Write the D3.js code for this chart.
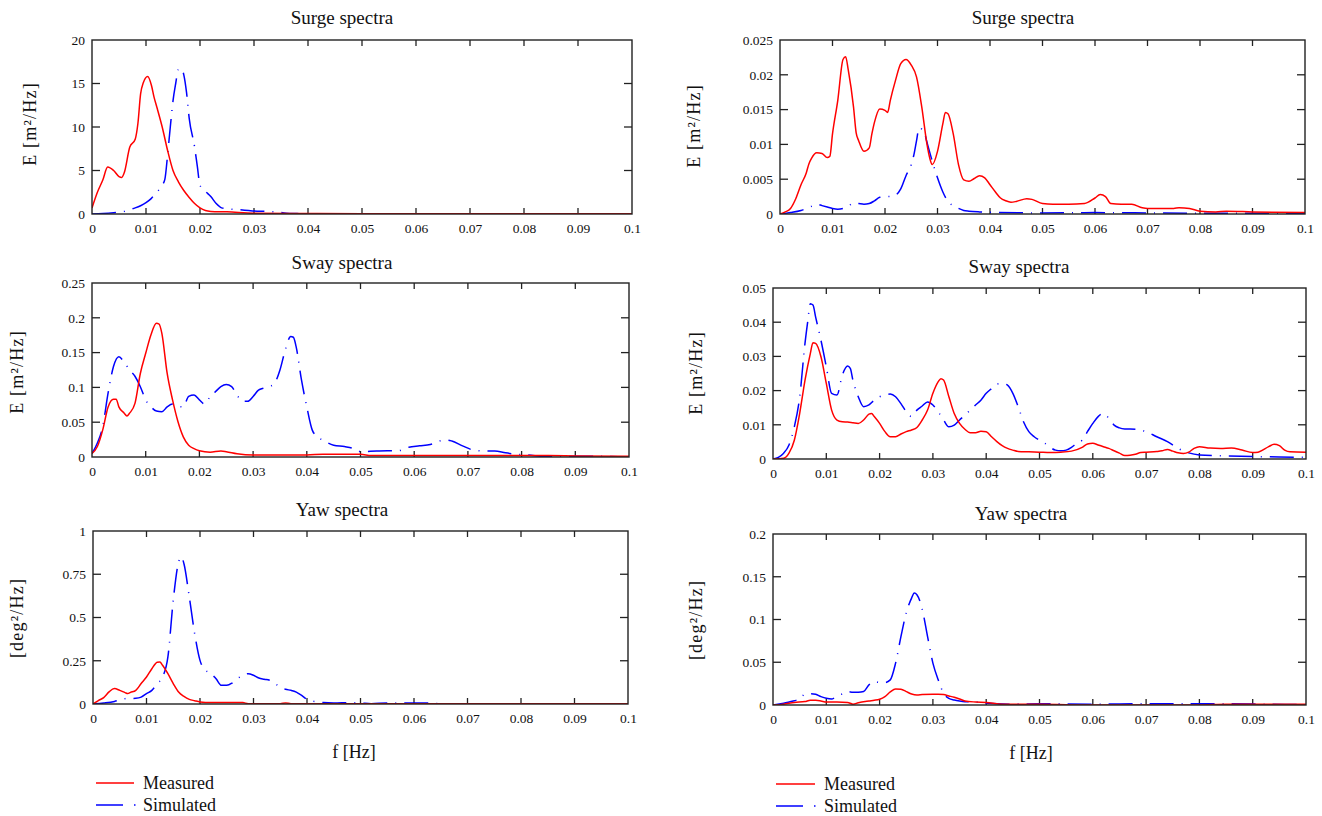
<!DOCTYPE html>
<html>
<head>
<meta charset="utf-8">
<script src="https://cdn.jsdelivr.net/npm/d3@7"></script>
<style>
  body { margin: 0; background: #fff; }
  svg { display: block; }
  svg text { font-family: "Liberation Serif", "Times New Roman", serif !important; fill: #111; }
</style>
</head>
<body>
<svg id="chart" width="1322" height="816"></svg>
<script>
// frequency tick labels shared by all panels
var freqTicks = [0, 0.01, 0.02, 0.03, 0.04, 0.05, 0.06, 0.07, 0.08, 0.09, 0.1]

// y tick labels per panel
var surgeTicksA = [0, 5, 10, 15, 20]
var surgeTicksB = [0, 0.005, 0.01, 0.015, 0.02, 0.025]
var swayTicksA = [0, 0.05, 0.1, 0.15, 0.2, 0.25]
var swayTicksB = [0, 0.01, 0.02, 0.03, 0.04, 0.05]
var yawTicksA = [0, 0.25, 0.5, 0.75, 1]
var yawTicksB = [0, 0.05, 0.1, 0.15, 0.2]

// series: [f (Hz), E]
var surgeMeasA = [[0,0.7],[0.001,2.5],[0.002,3.9],[0.0029,5.4],[0.004,5.0],[0.005,4.3],[0.0055,4.2],[0.006,4.8],[0.007,7.7],[0.008,8.6],[0.0085,10.4],[0.009,13.8],[0.0095,15.1],[0.0103,15.8],[0.011,14.8],[0.0115,13.4],[0.012,12.3],[0.013,10],[0.014,7.3],[0.015,5.0],[0.016,3.7],[0.017,2.7],[0.018,1.9],[0.019,1.2],[0.02,0.7],[0.021,0.4],[0.022,0.3],[0.025,0.25],[0.03,0.1],[0.04,0.05],[0.05,0.02],[0.1,0.02]]
var surgeSimA = [[0,0],[0.002,0.05],[0.004,0.15],[0.006,0.3],[0.007,0.5],[0.008,0.7],[0.009,0.95],[0.01,1.3],[0.011,1.8],[0.012,2.5],[0.013,3.3],[0.0135,4.0],[0.014,6.8],[0.0145,10],[0.015,13],[0.0155,15],[0.016,16.6],[0.0165,16.7],[0.017,16.0],[0.0175,14],[0.018,11],[0.019,7.7],[0.0195,5.5],[0.02,3.3],[0.021,2.6],[0.022,2.0],[0.023,1.2],[0.024,0.7],[0.025,0.6],[0.027,0.5],[0.029,0.4],[0.03,0.35],[0.032,0.3],[0.034,0.25],[0.036,0.1],[0.038,0.05],[0.04,0.02],[0.1,0.02]]

var surgeMeasB = [[0,0],[0.001,0.0003],[0.002,0.0008],[0.003,0.0022],[0.004,0.0042],[0.005,0.0059],[0.0055,0.0072],[0.006,0.008],[0.007,0.0088],[0.008,0.0087],[0.009,0.0081],[0.0095,0.0083],[0.01,0.0115],[0.011,0.0163],[0.012,0.0222],[0.0125,0.0226],[0.013,0.0207],[0.014,0.0154],[0.0145,0.0117],[0.015,0.0105],[0.016,0.009],[0.017,0.0095],[0.0175,0.0115],[0.018,0.0132],[0.019,0.0151],[0.02,0.0149],[0.0205,0.0146],[0.021,0.0163],[0.022,0.0192],[0.023,0.0216],[0.024,0.0222],[0.025,0.0214],[0.026,0.0197],[0.027,0.0154],[0.028,0.01],[0.0285,0.0081],[0.029,0.0071],[0.03,0.009],[0.031,0.0129],[0.0315,0.0146],[0.032,0.0144],[0.033,0.0115],[0.034,0.0071],[0.035,0.0049],[0.036,0.0047],[0.037,0.0051],[0.038,0.0055],[0.039,0.0052],[0.04,0.0042],[0.041,0.0032],[0.042,0.0023],[0.043,0.0019],[0.044,0.0017],[0.045,0.0018],[0.047,0.0022],[0.048,0.0021],[0.05,0.0015],[0.052,0.0014],[0.055,0.0014],[0.058,0.0015],[0.06,0.0023],[0.061,0.0028],[0.062,0.0025],[0.063,0.0015],[0.065,0.0014],[0.067,0.0014],[0.069,0.0009],[0.07,0.0008],[0.075,0.0008],[0.076,0.0009],[0.078,0.0008],[0.08,0.0004],[0.083,0.0003],[0.085,0.0004],[0.09,0.0003],[0.1,0.0002]]
var surgeSimB = [[0,0],[0.002,0.0002],[0.004,0.0005],[0.006,0.0011],[0.007,0.0014],[0.008,0.0012],[0.009,0.001],[0.01,0.0008],[0.011,0.0007],[0.012,0.0008],[0.013,0.0011],[0.014,0.0016],[0.015,0.0015],[0.016,0.0014],[0.017,0.0015],[0.018,0.0019],[0.019,0.0024],[0.02,0.0025],[0.021,0.0025],[0.022,0.0027],[0.023,0.0036],[0.024,0.0055],[0.025,0.0071],[0.0255,0.0085],[0.026,0.0105],[0.0265,0.0124],[0.027,0.0122],[0.0275,0.0117],[0.028,0.0103],[0.029,0.0076],[0.03,0.0052],[0.031,0.0032],[0.032,0.0018],[0.033,0.0012],[0.034,0.0008],[0.035,0.0005],[0.036,0.0004],[0.038,0.0003],[0.04,0.00025],[0.05,0.00015],[0.06,0.0002],[0.07,0.00015],[0.08,0.0001],[0.1,0.0001]]

var swayMeasA = [[0,0.005],[0.001,0.015],[0.002,0.039],[0.003,0.072],[0.004,0.083],[0.0045,0.083],[0.005,0.072],[0.006,0.063],[0.0065,0.059],[0.007,0.063],[0.008,0.077],[0.009,0.12],[0.01,0.149],[0.011,0.176],[0.012,0.192],[0.0125,0.191],[0.013,0.178],[0.014,0.12],[0.015,0.082],[0.016,0.051],[0.017,0.029],[0.018,0.017],[0.019,0.012],[0.02,0.009],[0.022,0.007],[0.024,0.0086],[0.025,0.0077],[0.027,0.0048],[0.03,0.003],[0.035,0.003],[0.04,0.003],[0.043,0.004],[0.05,0.004],[0.052,0.002],[0.06,0.002],[0.08,0.002],[0.085,0.002],[0.09,0.0015],[0.1,0.001]]
var swaySimA = [[0,0.005],[0.001,0.02],[0.002,0.044],[0.003,0.092],[0.004,0.13],[0.005,0.144],[0.006,0.136],[0.007,0.125],[0.008,0.116],[0.009,0.101],[0.01,0.082],[0.011,0.072],[0.012,0.066],[0.013,0.065],[0.014,0.072],[0.015,0.076],[0.016,0.073],[0.017,0.072],[0.018,0.087],[0.019,0.089],[0.02,0.082],[0.021,0.076],[0.022,0.087],[0.023,0.094],[0.024,0.101],[0.025,0.104],[0.026,0.101],[0.027,0.089],[0.028,0.08],[0.029,0.08],[0.03,0.087],[0.031,0.096],[0.032,0.099],[0.033,0.101],[0.034,0.106],[0.035,0.125],[0.036,0.154],[0.037,0.173],[0.0375,0.172],[0.038,0.159],[0.039,0.111],[0.04,0.072],[0.041,0.039],[0.042,0.029],[0.043,0.024],[0.045,0.017],[0.047,0.015],[0.049,0.0115],[0.05,0.0077],[0.053,0.0086],[0.055,0.009],[0.057,0.009],[0.059,0.014],[0.061,0.016],[0.063,0.018],[0.065,0.0235],[0.066,0.0245],[0.067,0.023],[0.069,0.016],[0.071,0.01],[0.073,0.0086],[0.075,0.0086],[0.077,0.006],[0.079,0.004],[0.081,0.003],[0.085,0.0005],[0.09,0.001],[0.095,0.001],[0.1,0]]

var swayMeasB = [[0,0],[0.002,0.0002],[0.003,0.0017],[0.004,0.0055],[0.005,0.0133],[0.006,0.023],[0.007,0.0308],[0.0075,0.034],[0.008,0.0338],[0.009,0.0299],[0.01,0.0221],[0.011,0.0143],[0.012,0.0114],[0.013,0.0109],[0.014,0.0108],[0.015,0.0106],[0.016,0.0104],[0.017,0.0114],[0.018,0.0131],[0.0185,0.0133],[0.019,0.0124],[0.02,0.0104],[0.021,0.008],[0.022,0.0065],[0.023,0.0065],[0.024,0.0073],[0.025,0.008],[0.026,0.0085],[0.027,0.0092],[0.028,0.0114],[0.029,0.0143],[0.03,0.0192],[0.031,0.0226],[0.0315,0.0235],[0.032,0.0231],[0.033,0.0182],[0.034,0.0133],[0.035,0.0104],[0.036,0.0087],[0.037,0.0077],[0.038,0.0077],[0.039,0.0081],[0.04,0.008],[0.041,0.0065],[0.042,0.0051],[0.043,0.0039],[0.044,0.0031],[0.045,0.0026],[0.046,0.0022],[0.048,0.0021],[0.05,0.002],[0.052,0.0019],[0.054,0.002],[0.056,0.0023],[0.058,0.0034],[0.059,0.0044],[0.06,0.0046],[0.061,0.0041],[0.062,0.0036],[0.063,0.0031],[0.064,0.0024],[0.065,0.0017],[0.066,0.001],[0.067,0.0011],[0.068,0.0014],[0.069,0.0019],[0.07,0.002],[0.072,0.0022],[0.073,0.0024],[0.074,0.0028],[0.075,0.0023],[0.076,0.0018],[0.077,0.0016],[0.078,0.002],[0.079,0.0031],[0.08,0.0036],[0.082,0.0032],[0.084,0.0031],[0.086,0.0032],[0.088,0.0026],[0.09,0.0019],[0.091,0.002],[0.093,0.0036],[0.094,0.0043],[0.095,0.0039],[0.096,0.0026],[0.097,0.0021],[0.1,0.002]]
var swaySimB = [[0,0],[0.001,0.0005],[0.002,0.0017],[0.003,0.0041],[0.004,0.0094],[0.005,0.018],[0.006,0.0338],[0.0065,0.04],[0.007,0.0454],[0.0075,0.045],[0.008,0.0415],[0.009,0.0347],[0.01,0.027],[0.011,0.0192],[0.012,0.0187],[0.013,0.0245],[0.014,0.0272],[0.0145,0.0265],[0.015,0.023],[0.016,0.0182],[0.017,0.0153],[0.018,0.0158],[0.019,0.0172],[0.02,0.0182],[0.021,0.0187],[0.022,0.019],[0.023,0.0182],[0.024,0.0162],[0.025,0.0138],[0.026,0.0124],[0.027,0.0143],[0.028,0.0155],[0.029,0.0167],[0.03,0.0158],[0.031,0.0138],[0.032,0.0114],[0.033,0.0094],[0.034,0.0099],[0.035,0.0114],[0.036,0.0128],[0.037,0.0143],[0.038,0.0158],[0.039,0.0172],[0.04,0.0192],[0.041,0.0206],[0.042,0.0219],[0.043,0.0221],[0.044,0.0216],[0.045,0.0192],[0.046,0.0153],[0.047,0.0109],[0.048,0.008],[0.049,0.0065],[0.05,0.0055],[0.051,0.0046],[0.052,0.0034],[0.053,0.0026],[0.054,0.0024],[0.055,0.0026],[0.056,0.0034],[0.057,0.0046],[0.058,0.0055],[0.059,0.008],[0.06,0.0104],[0.061,0.0124],[0.062,0.0133],[0.063,0.0119],[0.064,0.0099],[0.065,0.0091],[0.066,0.0088],[0.068,0.0087],[0.07,0.008],[0.072,0.0065],[0.074,0.0051],[0.076,0.0031],[0.078,0.0018],[0.08,0.0012],[0.085,0.0009],[0.09,0.0007],[0.095,0.0006],[0.1,0.0005]]

var yawMeasA = [[0,0],[0.001,0.02],[0.002,0.037],[0.003,0.07],[0.004,0.089],[0.005,0.079],[0.006,0.066],[0.0065,0.06],[0.007,0.067],[0.008,0.079],[0.009,0.118],[0.01,0.156],[0.011,0.204],[0.012,0.241],[0.0125,0.243],[0.013,0.224],[0.014,0.175],[0.015,0.118],[0.016,0.069],[0.017,0.044],[0.018,0.027],[0.019,0.019],[0.02,0.012],[0.022,0.008],[0.025,0.008],[0.028,0.008],[0.029,0.002],[0.035,0.002],[0.036,0.006],[0.037,0.002],[0.1,0.002]]
var yawSimA = [[0,0],[0.002,0.006],[0.004,0.015],[0.005,0.023],[0.006,0.031],[0.008,0.033],[0.009,0.04],[0.01,0.06],[0.011,0.079],[0.012,0.118],[0.013,0.156],[0.014,0.272],[0.015,0.6],[0.016,0.821],[0.0165,0.85],[0.017,0.811],[0.018,0.618],[0.019,0.407],[0.02,0.252],[0.021,0.195],[0.022,0.179],[0.023,0.146],[0.024,0.108],[0.025,0.108],[0.026,0.121],[0.027,0.146],[0.028,0.166],[0.029,0.175],[0.03,0.166],[0.031,0.15],[0.032,0.143],[0.033,0.137],[0.034,0.118],[0.035,0.098],[0.036,0.085],[0.037,0.079],[0.038,0.069],[0.039,0.05],[0.04,0.027],[0.041,0.017],[0.042,0.013],[0.043,0.008],[0.045,0.006],[0.048,0.008],[0.05,0.006],[0.052,0.002],[0.055,0.006],[0.06,0.006],[0.063,0.006],[0.065,0.002],[0.1,0.001]]

var yawMeasB = [[0,0],[0.002,0.001],[0.004,0.003],[0.006,0.004],[0.007,0.0055],[0.008,0.0055],[0.009,0.0047],[0.01,0.0035],[0.012,0.0035],[0.014,0.003],[0.015,0.001],[0.016,0.0027],[0.018,0.0047],[0.019,0.0055],[0.02,0.0067],[0.021,0.0098],[0.022,0.0153],[0.023,0.0188],[0.024,0.0184],[0.025,0.0157],[0.026,0.0129],[0.027,0.0118],[0.028,0.0122],[0.03,0.0125],[0.031,0.0125],[0.032,0.0122],[0.033,0.0106],[0.034,0.009],[0.035,0.007],[0.036,0.0047],[0.038,0.0035],[0.04,0.003],[0.043,0.0008],[0.05,0.0008],[0.06,0],[0.08,0],[0.085,0.001],[0.09,0.001],[0.1,0.001]]
var yawSimB = [[0,0],[0.002,0.002],[0.004,0.005],[0.005,0.0067],[0.006,0.0129],[0.007,0.0133],[0.008,0.0125],[0.009,0.0098],[0.01,0.0078],[0.011,0.007],[0.012,0.0106],[0.013,0.0129],[0.014,0.0157],[0.015,0.0149],[0.016,0.0149],[0.017,0.0157],[0.018,0.0235],[0.019,0.0275],[0.02,0.0263],[0.021,0.0263],[0.022,0.0294],[0.023,0.049],[0.024,0.08],[0.025,0.108],[0.026,0.125],[0.0265,0.131],[0.027,0.129],[0.028,0.112],[0.029,0.08],[0.03,0.049],[0.031,0.0294],[0.032,0.0137],[0.033,0.0078],[0.034,0.0059],[0.035,0.0047],[0.036,0.0039],[0.038,0.0035],[0.04,0.002],[0.045,0.001],[0.05,0.0015],[0.06,0.001],[0.07,0.0015],[0.08,0.0015],[0.1,0.0004]]

var svg = d3.select('#chart')

// one entry per panel: box position, title, y axis
var panels = [
  { x0: 92, x1: 632, y0: 40, y1: 214, title: 'Surge spectra', tx: 342, ty: 24, ylab: 'E [m\u00b2/Hz]', lx: 30, ly: 124, ticks: surgeTicksA, meas: surgeMeasA, sim: surgeSimA },
  { x0: 780, x1: 1305, y0: 40, y1: 214, title: 'Surge spectra', tx: 1023, ty: 24, ylab: 'E [m\u00b2/Hz]', lx: 694, ly: 126, ticks: surgeTicksB, meas: surgeMeasB, sim: surgeSimB },
  { x0: 92, x1: 629, y0: 283, y1: 457, title: 'Sway spectra', tx: 342, ty: 269, ylab: 'E [m\u00b2/Hz]', lx: 17, ly: 372, ticks: swayTicksA, meas: swayMeasA, sim: swaySimA },
  { x0: 773, x1: 1306, y0: 288, y1: 459, title: 'Sway spectra', tx: 1019, ty: 273, ylab: 'E [m\u00b2/Hz]', lx: 696, ly: 373, ticks: swayTicksB, meas: swayMeasB, sim: swaySimB },
  { x0: 93, x1: 628, y0: 531, y1: 704, title: 'Yaw spectra', tx: 342, ty: 516, ylab: '[deg\u00b2/Hz]', lx: 17, ly: 618, ticks: yawTicksA, meas: yawMeasA, sim: yawSimA },
  { x0: 773, x1: 1306, y0: 534, y1: 705, title: 'Yaw spectra', tx: 1021, ty: 520, ylab: '[deg\u00b2/Hz]', lx: 696, ly: 620, ticks: yawTicksB, meas: yawMeasB, sim: yawSimB }
]

var dashSim = '24,8,1,8'

panels.forEach(function(p, i) {
  var x = d3.scaleLinear().domain([0, 0.1]).range([p.x0, p.x1])
  var ymax = p.ticks[p.ticks.length - 1]
  var y = d3.scaleLinear().domain([0, ymax]).range([p.y1, p.y0])
  var g = svg.append('g')

  g.append('clipPath').attr('id', 'clip' + i)
    .append('rect').attr('x', p.x0).attr('y', p.y0 - 1)
    .attr('width', p.x1 - p.x0).attr('height', p.y1 - p.y0 + 1)

  // labels bottom and left, ticks drawn separately (inward, all four sides)
  var bottom = d3.axisBottom(x).tickValues(freqTicks).tickSize(0).tickPadding(9)
    .tickFormat(function(d) { return d3.format('~g')(+d.toFixed(3)) })
  var left = d3.axisLeft(y).tickValues(p.ticks).tickSize(0).tickPadding(7)
    .tickFormat(function(d) { return d3.format('~g')(+d.toFixed(4)) })

  var gb = g.append('g').attr('transform', 'translate(0,' + p.y1 + ')').call(bottom)
    .attr('font-family', null).attr('font-size', null)
  gb.select('.domain').remove()
  gb.selectAll('text').style('font-size', '13.5px')

  var gl = g.append('g').attr('transform', 'translate(' + p.x0 + ',0)').call(left)
    .attr('font-family', null).attr('font-size', null)
  gl.select('.domain').remove()
  gl.selectAll('text').style('font-size', '13.5px')

  var inner = freqTicks.slice(1, -1)
  g.selectAll('.xt-top').data(inner).enter().append('line')
    .attr('x1', x).attr('x2', x).attr('y1', p.y0).attr('y2', p.y0 + 6)
    .attr('stroke', '#222').attr('stroke-width', 1.3)
  g.selectAll('.xt-bot').data(inner).enter().append('line')
    .attr('x1', x).attr('x2', x).attr('y1', p.y1).attr('y2', p.y1 - 6)
    .attr('stroke', '#222').attr('stroke-width', 1.3)
  var innerY = p.ticks.slice(1, -1)
  g.selectAll('.yt-l').data(innerY).enter().append('line')
    .attr('x1', p.x0).attr('x2', p.x0 + 8).attr('y1', y).attr('y2', y)
    .attr('stroke', '#222').attr('stroke-width', 1.3)
  g.selectAll('.yt-r').data(innerY).enter().append('line')
    .attr('x1', p.x1).attr('x2', p.x1 - 8).attr('y1', y).attr('y2', y)
    .attr('stroke', '#222').attr('stroke-width', 1.3)

  var line = d3.line()
    .x(function(d) { return x(d[0]) })
    .y(function(d) { return y(d[1]) })
    .curve(d3.curveMonotoneX)

  var lines = g.append('g').attr('clip-path', 'url(#clip' + i + ')')
  lines.append('path').datum(p.sim)
    .attr('d', line).attr('fill', 'none')
    .attr('stroke', '#0000ff').attr('stroke-width', 1.5)
    .attr('stroke-dasharray', dashSim)
  lines.append('path').datum(p.meas)
    .attr('d', line).attr('fill', 'none')
    .attr('stroke', '#ff0000').attr('stroke-width', 1.5)

  // frame
  g.append('rect').attr('x', p.x0).attr('y', p.y0)
    .attr('width', p.x1 - p.x0).attr('height', p.y1 - p.y0)
    .attr('fill', 'none').attr('stroke', '#222').attr('stroke-width', 1.4)

  g.append('text').attr('x', p.tx).attr('y', p.ty)
    .attr('text-anchor', 'middle').attr('font-size', 19).text(p.title)

  g.append('text')
    .attr('transform', 'translate(' + p.lx + ',' + p.ly + ') rotate(-90)')
    .attr('text-anchor', 'middle').attr('dy', '0.35em')
    .attr('font-size', 18).attr('letter-spacing', 1.2).text(p.ylab)
})

// x labels and legends under the bottom panels
var foot = [
  { cx: 354, ly: 758, lx0: 96, lx1: 134, tx: 143, my: 783, sy: 805 },
  { cx: 1031, ly: 759, lx0: 776, lx1: 815, tx: 824, my: 784, sy: 806 }
]
foot.forEach(function(f) {
  svg.append('text').attr('x', f.cx).attr('y', f.ly)
    .attr('text-anchor', 'middle').attr('font-size', 18).text('f [Hz]')
  svg.append('line').attr('x1', f.lx0).attr('x2', f.lx1).attr('y1', f.my).attr('y2', f.my)
    .attr('stroke', '#ff0000').attr('stroke-width', 1.5)
  svg.append('line').attr('x1', f.lx0).attr('x2', f.lx1 + 2).attr('y1', f.sy).attr('y2', f.sy)
    .attr('stroke', '#0000ff').attr('stroke-width', 1.5).attr('stroke-dasharray', '27,11,1.5,10')
  svg.append('text').attr('x', f.tx).attr('y', f.my).attr('dy', '0.35em')
    .attr('font-size', 18).text('Measured')
  svg.append('text').attr('x', f.tx).attr('y', f.sy).attr('dy', '0.35em')
    .attr('font-size', 18).text('Simulated')
})
</script>
</body>
</html>
